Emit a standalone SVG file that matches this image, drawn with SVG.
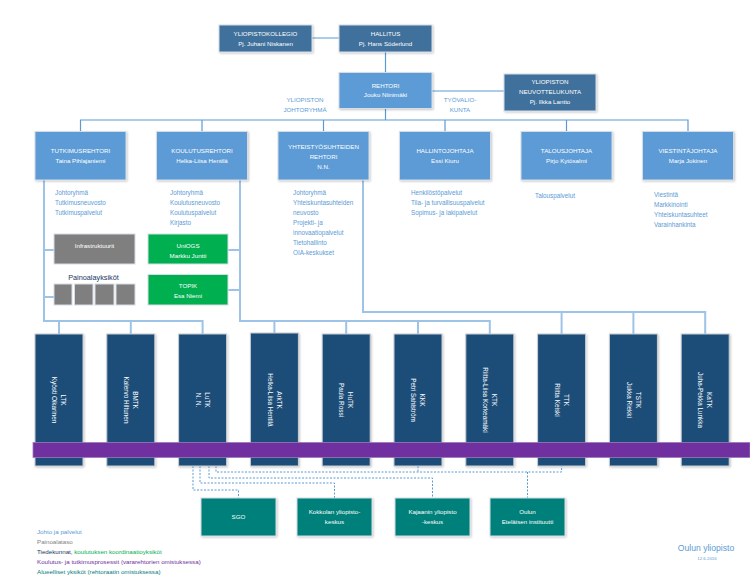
<svg xmlns="http://www.w3.org/2000/svg" width="750" height="586" viewBox="0 0 750 586">
<defs>
<filter id="sh" x="-10%" y="-10%" width="130%" height="130%"><feDropShadow dx="1" dy="1" stdDeviation="0.8" flood-color="#000" flood-opacity="0.22"/></filter>
<style>
text{font-family:"Liberation Sans",Arial,sans-serif}
.w{fill:#fff;font-size:6.2px;text-anchor:middle}
.l{fill:#5b9bd5;font-size:6.3px}
.lc{fill:#5b9bd5;font-size:6.2px;text-anchor:middle}
.c{fill:none;stroke:#5b9bd5;stroke-width:1.2}
.c2{fill:none;stroke:#9dc3e6;stroke-width:2}
.d{fill:none;stroke:#5b9bd5;stroke-width:1;stroke-dasharray:2 1.5}
.dk{fill:#41719c;stroke:#d6dce4;stroke-width:1;filter:url(#sh)}
.lb{fill:#5b9bd5;stroke:#d6dce4;stroke-width:1;filter:url(#sh)}
.fac{fill:#1f4e79;stroke:#c8ccd2;stroke-width:1;filter:url(#sh)}
.tl{fill:#00807a;stroke:#d6dce4;stroke-width:1;filter:url(#sh)}
.gr{fill:#00b050;stroke:#d6dce4;stroke-width:1}
.gy{fill:#7f7f7f;stroke:#d6dce4;stroke-width:1}
.ft{fill:#fff;font-size:6.4px;text-anchor:middle}
.lg{font-size:6.2px}
</style>
</defs>
<rect width="750" height="586" fill="#fff"/>

<g id="connectors">
<path class="c" d="M312 38H339M385.5 51V73M432 91H504M385.5 108V120"/>
<path class="c" d="M80.5 131V120H688V131M202 120V131M323.5 120V131M445 120V131M566.5 120V131"/>
<path class="c2" d="M44 180V321H202.6V334M59 321V334M130.8 321V334M44 250H54M44 297H54"/>
<path class="c2" d="M240 180V321H489.8V334M274.4 321V334M346.2 321V334M418 321V334M228 250H240M228 290H240"/>
<path class="c2" d="M363 180V312H705.2V334M561.6 312V334M633.4 312V334"/>
<path class="d" d="M193 466V490H238.5V498M200 466V483H334.5V498M209 466V478H432.5V498M216 466V472H561.6V466M418 466V472M527.5 472V498"/>
</g>

<g id="yliopistokollegio"><rect class="dk" x="219" y="25" width="93" height="27"/><text class="w" x="265.5" y="36.2">YLIOPISTOKOLLEGIO</text><text class="w" x="265.5" y="46.2">Pj. Juhani Niskanen</text></g>
<g id="hallitus"><rect class="dk" x="339" y="25" width="93" height="27"/><text class="w" x="385.5" y="36.2">HALLITUS</text><text class="w" x="385.5" y="46.2">Pj. Hans Söderlund</text></g>
<g id="rehtori"><rect class="lb" x="339" y="72.5" width="93" height="36"/><text class="w" x="385.5" y="88">REHTORI</text><text class="w" x="385.5" y="97.2">Jouko Niinimäki</text></g>
<g id="neuvottelukunta"><rect class="dk" x="504" y="74" width="92" height="37"/><text class="w" x="550" y="84.2">YLIOPISTON</text><text class="w" x="550" y="94.2">NEUVOTTELUKUNTA</text><text class="w" x="550" y="104.2">Pj. Ilkka Lantto</text></g>
<g id="johtoryhma"><text class="lc" x="305" y="102.3">YLIOPISTON</text><text class="lc" x="305" y="111.8">JOHTORYHMÄ</text></g>
<g id="tyovaliokunta"><text class="lc" x="460" y="102.3">TYÖVALIO-</text><text class="lc" x="460" y="111.8">KUNTA</text></g>

<g id="tutkimusrehtori"><rect class="lb" x="35" y="131.5" width="91" height="48.5"/><text class="w" x="80.5" y="153.2">TUTKIMUSREHTORI</text><text class="w" x="80.5" y="163.2">Taina Pihlajaniemi</text></g>
<g id="koulutusrehtori"><rect class="lb" x="156.5" y="131.5" width="91" height="48.5"/><text class="w" x="202" y="153.2">KOULUTUSREHTORI</text><text class="w" x="202" y="163.2">Helka-Liisa Hentilä</text></g>
<g id="yhteistyosuhteiden"><rect class="lb" x="278" y="131.5" width="91" height="48.5"/><text class="w" x="323.5" y="149.2">YHTEISTYÖSUHTEIDEN</text><text class="w" x="323.5" y="159.2">REHTORI</text><text class="w" x="323.5" y="169.2">N.N.</text></g>
<g id="hallintojohtaja"><rect class="lb" x="399.5" y="131.5" width="91" height="48.5"/><text class="w" x="445" y="153.2">HALLINTOJOHTAJA</text><text class="w" x="445" y="163.2">Essi Kiuru</text></g>
<g id="talousjohtaja"><rect class="lb" x="521" y="131.5" width="91" height="48.5"/><text class="w" x="566.5" y="153.2">TALOUSJOHTAJA</text><text class="w" x="566.5" y="163.2">Pirjo Kytösalmi</text></g>
<g id="viestintajohtaja"><rect class="lb" x="642.5" y="131.5" width="91" height="48.5"/><text class="w" x="688" y="153.2">VIESTINTÄJOHTAJA</text><text class="w" x="688" y="163.2">Marja Jokinen</text></g>

<g id="lista-tutkimus"><text class="l" x="55" y="195.2">Johtoryhmä</text><text class="l" x="55" y="205.2">Tutkimusneuvosto</text><text class="l" x="55" y="215.2">Tutkimuspalvelut</text></g>
<g id="lista-koulutus"><text class="l" x="170" y="195.2">Johtoryhmä</text><text class="l" x="170" y="205.2">Koulutusneuvosto</text><text class="l" x="170" y="215.2">Koulutuspalvelut</text><text class="l" x="170" y="225.2">Kirjasto</text></g>
<g id="lista-yhteistyo"><text class="l" x="293" y="195.2">Johtoryhmä</text><text class="l" x="293" y="205.2">Yhteiskuntasuhteiden</text><text class="l" x="293" y="215.2">neuvosto</text><text class="l" x="293" y="225.2">Projekti- ja</text><text class="l" x="293" y="235.2">innovaatiopalvelut</text><text class="l" x="293" y="245.2">Tietohallinto</text><text class="l" x="293" y="255.2">OIA-keskukset</text></g>
<g id="lista-hallinto"><text class="l" x="411" y="195.2">Henkilöstöpalvelut</text><text class="l" x="411" y="205.2">Tila- ja turvallisuuspalvelut</text><text class="l" x="411" y="215.2">Sopimus- ja lakipalvelut</text></g>
<g id="lista-talous"><text class="l" x="535" y="198.2">Talouspalvelut</text></g>
<g id="lista-viestinta"><text class="l" x="654" y="197.2">Viestintä</text><text class="l" x="654" y="207.2">Markkinointi</text><text class="l" x="654" y="217.2">Yhteiskuntasuhteet</text><text class="l" x="654" y="227.2">Varainhankinta</text></g>

<g id="infrastruktuurit"><rect class="gy" x="54" y="234" width="81" height="30"/><text class="w" x="94.5" y="248.2">Infrastruktuurit</text></g>
<g id="painoalayksikot"><text x="93.5" y="279.5" style="fill:#203864;font-size:7.3px;text-anchor:middle">Painoalayksiköt</text>
<rect class="gy" x="54" y="284" width="18" height="21"/><rect class="gy" x="74.5" y="284" width="18.5" height="21"/><rect class="gy" x="95" y="284" width="19" height="21"/><rect class="gy" x="116" y="284" width="19" height="21"/></g>
<g id="uniogs"><rect class="gr" x="148" y="234" width="80" height="30"/><text class="w" x="188" y="248.2">UniOGS</text><text class="w" x="188" y="258.2">Markku Juntti</text></g>
<g id="topik"><rect class="gr" x="148" y="274.5" width="80" height="30.5"/><text class="w" x="188" y="288.2">TOPIK</text><text class="w" x="188" y="297.6">Esa Niemi</text></g>

<g id="ltk"><rect class="fac" x="35" y="334" width="48" height="132"/><g transform="translate(59 400) rotate(90)"><text class="ft" y="-2.2">LTK</text><text class="ft" y="6.8">Kyösti Oikarinen</text></g></g>
<g id="bmtk"><rect class="fac" x="106.8" y="334" width="48" height="132"/><g transform="translate(130.8 400) rotate(90)"><text class="ft" y="-2.2">BMTK</text><text class="ft" y="6.8">Kalervo Hiltunen</text></g></g>
<g id="lutk"><rect class="fac" x="178.6" y="334" width="48" height="132"/><g transform="translate(202.6 400) rotate(90)"><text class="ft" y="-2.2">LuTK</text><text class="ft" y="6.8">N. N.</text></g></g>
<g id="arktk"><rect class="fac" x="250.4" y="333" width="48" height="133"/><g transform="translate(274.4 400) rotate(90)"><text class="ft" y="-2.2">ArkTK</text><text class="ft" y="6.8">Helka-Liisa Hentilä</text></g></g>
<g id="hutk"><rect class="fac" x="322.2" y="334" width="48" height="132"/><g transform="translate(346.2 400) rotate(90)"><text class="ft" y="-2.2">HuTK</text><text class="ft" y="6.8">Paula Rossi</text></g></g>
<g id="kkk"><rect class="fac" x="394" y="334" width="48" height="132"/><g transform="translate(418 400) rotate(90)"><text class="ft" y="-2.2">KKK</text><text class="ft" y="6.8">Petri Sahlström</text></g></g>
<g id="ktk"><rect class="fac" x="465.8" y="334" width="48" height="132"/><g transform="translate(489.8 400) rotate(90)"><text class="ft" y="-2.2">KTK</text><text class="ft" y="6.8">Riitta-Liisa Korkeamäki</text></g></g>
<g id="ttk"><rect class="fac" x="537.6" y="334" width="48" height="132"/><g transform="translate(561.6 400) rotate(90)"><text class="ft" y="-2.2">TTK</text><text class="ft" y="6.8">Riitta Keiski</text></g></g>
<g id="tstk"><rect class="fac" x="609.4" y="334" width="48" height="132"/><g transform="translate(633.4 400) rotate(90)"><text class="ft" y="-2.2">TSTK</text><text class="ft" y="6.8">Jukka Riekki</text></g></g>
<g id="katk"><rect class="fac" x="681.2" y="334" width="48" height="132"/><g transform="translate(705.2 400) rotate(90)"><text class="ft" y="-2.2">KaTK</text><text class="ft" y="6.8">Juha-Pekka Lunkka</text></g></g>

<g id="prosessit"><rect x="33" y="442.5" width="717" height="15" fill="#7030a0" stroke="#9a7bb8" stroke-width="0.8"/></g>

<g id="sgo"><rect class="tl" x="201" y="498" width="75" height="38"/><text class="w" x="238.5" y="519.2">SGO</text></g>
<g id="kokkola"><rect class="tl" x="297" y="498" width="75" height="38"/><text class="w" x="334.5" y="514">Kokkolan yliopisto-</text><text class="w" x="334.5" y="524">keskus</text></g>
<g id="kajaani"><rect class="tl" x="395" y="498" width="75" height="38"/><text class="w" x="432.5" y="514">Kajaanin yliopisto</text><text class="w" x="432.5" y="524">-keskus</text></g>
<g id="etelainen"><rect class="tl" x="490" y="498" width="75" height="38"/><text class="w" x="527.5" y="514">Oulun</text><text class="w" x="527.5" y="524">Eteläisen instituutti</text></g>

<g id="legend">
<text class="lg" x="37" y="534" fill="#5b9bd5">Johto ja palvelut</text>
<text class="lg" x="37" y="543.6" fill="#7f7f7f">Painoalataso</text>
<text class="lg" x="37" y="554" fill="#203864">Tiedekunnat, <tspan fill="#00b050">koulutuksen koordinaatioyksiköt</tspan></text>
<text class="lg" x="37" y="564" fill="#7030a0">Koulutus- ja tutkimusprosessit (vararehtorien omistuksessa)</text>
<text class="lg" x="37" y="574.2" fill="#00807a">Alueelliset yksiköt (rehtoraatin omistuksessa)</text>
</g>
<g id="logo"><text x="706" y="551" style="fill:#5b9bd5;font-size:8.6px;text-anchor:middle">Oulun yliopisto</text><text x="707" y="559.6" style="fill:#5b9bd5;font-size:4.4px;text-anchor:middle">12.6.2016</text></g>
</svg>
